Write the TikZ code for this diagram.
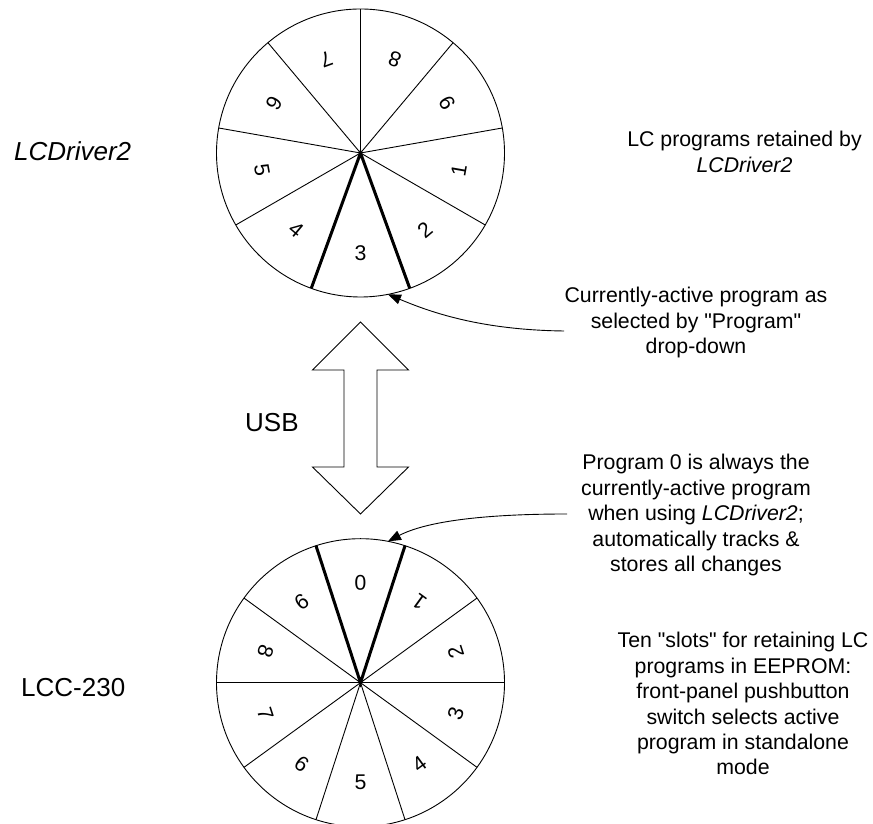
\documentclass[tikz,border=0pt]{standalone}
\usepackage{fontspec}
\setmainfont{Liberation Sans}[Ligatures=TeXOff]
\usetikzlibrary{arrows.meta}
\begin{document}
\begin{tikzpicture}[x=1pt,y=1pt,
  thinline/.style={line width=0.9pt},
  thickline/.style={line width=3pt, line join=miter},
  wheel/.style={circle, draw, line width=0.9pt, minimum size=288pt, inner sep=0pt, outer sep=0pt},
  digit/.style={font=\fontsize{21.3}{25.4}\selectfont, inner sep=0pt},
  biglabel/.style={font=\fontsize{26}{30}\selectfont, inner sep=0pt, anchor=base west},
  bigitlabel/.style={font=\fontsize{26}{30}\selectfont\itshape, inner sep=0pt, anchor=base west},
  note/.style={font=\fontsize{21.3}{25.4}\selectfont, inner sep=0pt, anchor=base},
  callout/.style={line width=0.9pt, -{Triangle[length=13pt,width=10pt]}},
  dblarrow/.style={line width=0.9pt, fill=white}
]
\useasboundingbox (0,0) rectangle (873,824);
\fill[white] (0,0) rectangle (873,824);

% ---------- top wheel (LCDriver2) ----------
\node[wheel] (top) at (360.5,671) {};
\foreach \a in {10,50,90,130,170,210,330}
  \draw[thinline] (top.center) -- (top.\a);
\draw[thickline] (top.250) -- (top.center) -- (top.290);
\foreach \n in {1,...,9}
  \node[digit, rotate={480-40*\n}] (t\n) at ([shift={({390-40*\n}:100)}]top.center) {\n};

% ---------- bottom wheel (LCC-230) ----------
\node[wheel] (bot) at (360.5,141.3) {};
\foreach \a in {0,36,144,180,216,252,288,324}
  \draw[thinline] (bot.center) -- (bot.\a);
\draw[thickline] (bot.72) -- (bot.center) -- (bot.108);
\foreach \n in {0,...,9}
  \node[digit, rotate={180-36*\n}] (b\n) at ([shift={({90-36*\n}:100)}]bot.center) {\n};

% ---------- USB double arrow ----------
\draw[dblarrow] (360.5,502) -- (408.5,454) -- (377,454) -- (377,357) -- (408.5,357)
  -- (360.5,310) -- (312.5,357) -- (344,357) -- (344,454) -- (312.5,454) -- cycle;

% ---------- left labels ----------
\node[bigitlabel] (lcd) at (14,663) {LCDriver2};
\node[biglabel] (usb) at (245,392) {USB};
\node[biglabel] (lcc) at (21,127) {LCC-230};

% ---------- notes ----------
\node[note] (n1) at (744.5,677) {\begin{tabular}[t]{@{}c@{}}LC programs retained by\\ \textit{LCDriver2}\end{tabular}};
\node[note] (n2) at (696,521) {\begin{tabular}[t]{@{}c@{}}Currently-active program as\\ selected by "Program"\\ drop-down\end{tabular}};
\node[note] (n3) at (696,354) {\begin{tabular}[t]{@{}c@{}}Program 0 is always the\\ currently-active program\\ when using \textit{LCDriver2};\\ automatically tracks \&\\ stores all changes\end{tabular}};
\node[note] (n4) at (743,176) {\begin{tabular}[t]{@{}c@{}}Ten "slots" for retaining LC\\ programs in EEPROM:\\ front-panel pushbutton\\ switch selects active\\ program in standalone\\ mode\end{tabular}};

% ---------- callout arrows ----------
\coordinate (c1) at (564,493);
\coordinate (c2) at (567,310);
\draw[callout] (c1) .. controls (480,494) and (430,512) .. (top.-79);
\draw[callout] (c2) .. controls (480,310) and (425,302) .. (bot.79);
\end{tikzpicture}
\end{document}
